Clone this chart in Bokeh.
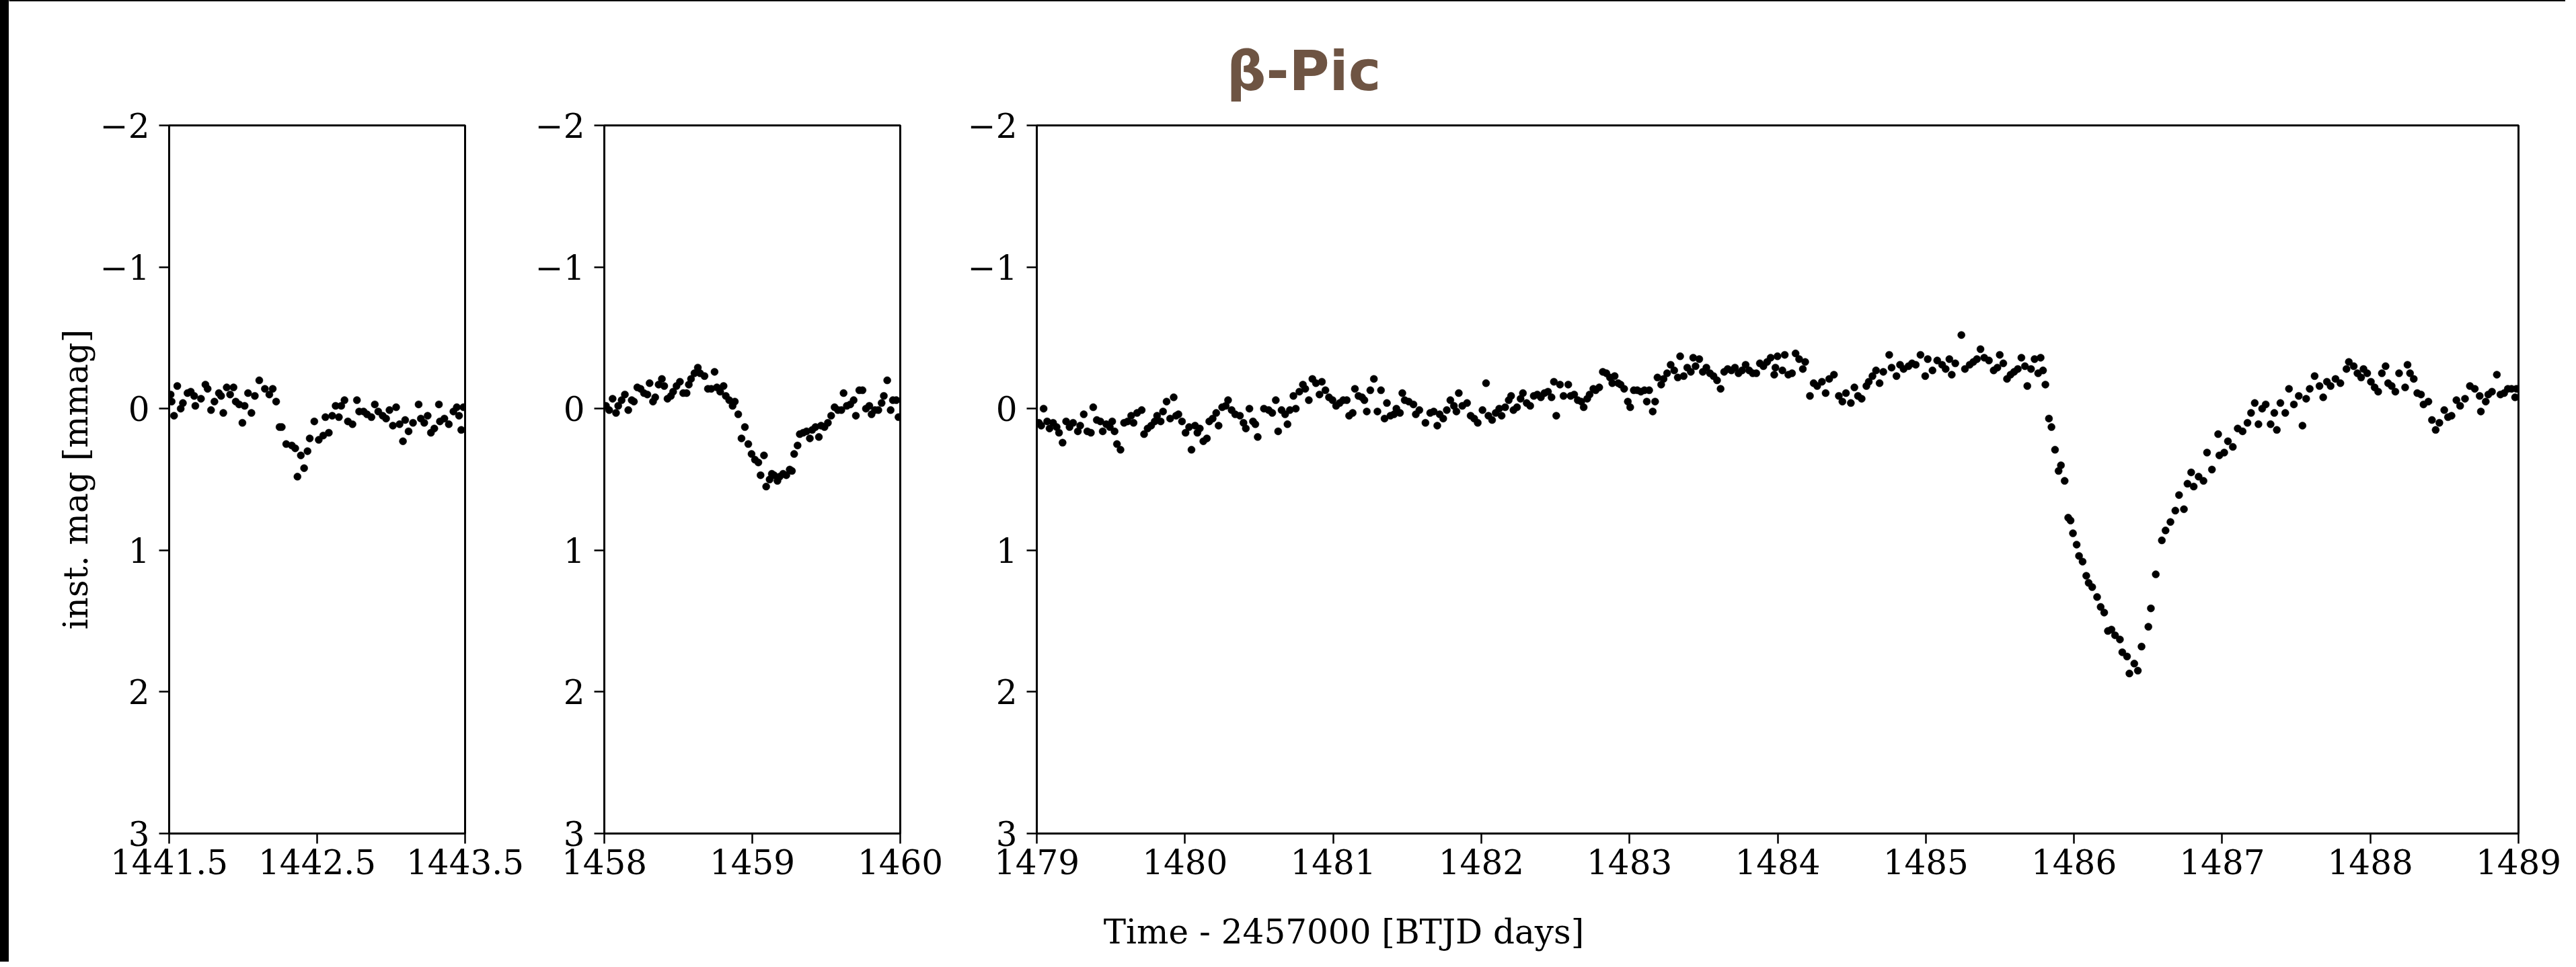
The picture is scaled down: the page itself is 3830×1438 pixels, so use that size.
from bokeh.plotting import figure
from bokeh.layouts import row, column
from bokeh.models import Range1d, FixedTicker, Label
from bokeh.embed import file_html
from bokeh.resources import INLINE

# ---------------- texts ----------------
TITLE = "β-Pic"
X_LABEL = "Time - 2457000 [BTJD days]"
Y_LABEL = "inst. mag [mmag]"

# ---------------- ticks ----------------
Y_TICKS = [-2, -1, 0, 1, 2, 3]
Y_TICK_LABELS = ["−2", "−1", "0", "1", "2", "3"]
X1_TICKS = [1441.5, 1442.5, 1443.5]
X1_TICK_LABELS = ["1441.5", "1442.5", "1443.5"]
X2_TICKS = [1458, 1459, 1460]
X2_TICK_LABELS = ["1458", "1459", "1460"]
X3_TICKS = [1479, 1480, 1481, 1482, 1483, 1484, 1485, 1486, 1487, 1488, 1489]
X3_TICK_LABELS = ["1479", "1480", "1481", "1482", "1483", "1484", "1485", "1486", "1487", "1488", "1489"]

X1_RANGE = (1441.5, 1443.5)
X2_RANGE = (1458.0, 1460.0)
X3_RANGE = (1479.0, 1489.0)
Y_RANGE = (3.0, -2.0)   # magnitudes: axis inverted

# ---------------- data: (time, inst. mag) ----------------
panel1 = [
    (1441.510, -0.10), (1441.517, -0.05), (1441.533, 0.05), (1441.555, -0.16), (1441.578, 0.00),
    (1441.593, -0.04), (1441.624, -0.11), (1441.646, -0.12), (1441.669, -0.09), (1441.677, -0.02),
    (1441.715, -0.07), (1441.745, -0.17), (1441.760, -0.14), (1441.783, 0.01), (1441.806, -0.05),
    (1441.836, -0.11), (1441.851, -0.09), (1441.866, 0.03), (1441.889, -0.15), (1441.912, -0.10),
    (1441.935, -0.15), (1441.950, -0.05), (1441.973, -0.03), (1441.995, 0.10), (1442.010, -0.02),
    (1442.033, -0.11), (1442.056, 0.03), (1442.079, -0.09), (1442.109, -0.20), (1442.147, -0.14),
    (1442.177, -0.10), (1442.200, -0.14), (1442.223, -0.05), (1442.246, 0.13), (1442.261, 0.13),
    (1442.291, 0.25), (1442.329, 0.26), (1442.352, 0.28), (1442.367, 0.48), (1442.390, 0.33),
    (1442.412, 0.42), (1442.435, 0.30), (1442.450, 0.21), (1442.481, 0.09), (1442.511, 0.22),
    (1442.541, 0.19), (1442.556, 0.06), (1442.579, 0.17), (1442.602, 0.05), (1442.625, -0.02),
    (1442.647, 0.06), (1442.663, -0.02), (1442.685, -0.06), (1442.708, 0.09), (1442.739, 0.11),
    (1442.769, -0.06), (1442.784, 0.02), (1442.814, 0.02), (1442.837, 0.04), (1442.867, 0.06),
    (1442.890, -0.03), (1442.913, 0.02), (1442.943, 0.05), (1442.966, 0.07), (1442.989, 0.01),
    (1443.012, 0.12), (1443.034, -0.01), (1443.057, 0.11), (1443.080, 0.23), (1443.095, 0.08),
    (1443.118, 0.16), (1443.148, 0.10), (1443.186, -0.03), (1443.201, 0.07), (1443.224, 0.10),
    (1443.247, 0.05), (1443.269, 0.17), (1443.292, 0.14), (1443.323, -0.03), (1443.330, 0.09),
    (1443.360, 0.07), (1443.390, 0.11), (1443.421, 0.02), (1443.444, -0.01), (1443.459, 0.05),
    (1443.474, 0.15), (1443.489, -0.01),
]

panel2 = [
    (1458.011, -0.02), (1458.033, 0.01), (1458.056, -0.07), (1458.079, 0.03), (1458.094, -0.02),
    (1458.117, -0.06), (1458.139, -0.10), (1458.162, 0.01), (1458.185, -0.06), (1458.200, -0.05),
    (1458.223, -0.15), (1458.245, -0.14), (1458.268, -0.11), (1458.291, -0.10), (1458.306, -0.18),
    (1458.329, -0.05), (1458.344, -0.08), (1458.367, -0.17), (1458.389, -0.21), (1458.405, -0.16),
    (1458.427, -0.07), (1458.450, -0.09), (1458.465, -0.12), (1458.488, -0.16), (1458.511, -0.19),
    (1458.533, -0.11), (1458.556, -0.11), (1458.571, -0.17), (1458.586, -0.21), (1458.609, -0.25),
    (1458.632, -0.29), (1458.647, -0.25), (1458.677, -0.23), (1458.700, -0.14), (1458.723, -0.14),
    (1458.745, -0.26), (1458.761, -0.15), (1458.783, -0.12), (1458.806, -0.16), (1458.821, -0.09),
    (1458.844, -0.06), (1458.867, -0.02), (1458.882, -0.05), (1458.905, 0.04), (1458.927, 0.21),
    (1458.950, 0.13), (1458.973, 0.25), (1458.995, 0.32), (1459.018, 0.36), (1459.041, 0.38),
    (1459.056, 0.47), (1459.079, 0.33), (1459.094, 0.55), (1459.117, 0.50), (1459.132, 0.46),
    (1459.147, 0.47), (1459.170, 0.51), (1459.185, 0.48), (1459.208, 0.46), (1459.230, 0.47),
    (1459.253, 0.43), (1459.268, 0.44), (1459.283, 0.32), (1459.306, 0.26), (1459.321, 0.18),
    (1459.344, 0.17), (1459.367, 0.16), (1459.389, 0.21), (1459.405, 0.15), (1459.427, 0.13),
    (1459.450, 0.20), (1459.465, 0.12), (1459.488, 0.13), (1459.511, 0.10), (1459.533, 0.05),
    (1459.556, -0.01), (1459.579, 0.01), (1459.602, 0.01), (1459.617, -0.11), (1459.639, -0.02),
    (1459.662, -0.03), (1459.685, -0.06), (1459.700, 0.05), (1459.723, -0.13), (1459.745, -0.13),
    (1459.768, 0.00), (1459.791, -0.02), (1459.806, 0.04), (1459.829, 0.01), (1459.852, 0.01),
    (1459.874, -0.04), (1459.889, -0.09), (1459.912, -0.20), (1459.935, 0.01), (1459.950, -0.06),
    (1459.973, -0.06), (1459.988, 0.06),
]

panel3 = [
    (1479.014, 0.10), (1479.030, 0.12), (1479.046, 0.00), (1479.070, 0.09), (1479.086, 0.14),
    (1479.110, 0.10), (1479.134, 0.13), (1479.150, 0.17), (1479.174, 0.24), (1479.198, 0.09),
    (1479.221, 0.13), (1479.245, 0.10), (1479.277, 0.16), (1479.293, 0.12), (1479.317, 0.04),
    (1479.341, 0.16), (1479.365, 0.17), (1479.381, -0.01), (1479.405, 0.08), (1479.429, 0.09),
    (1479.445, 0.16), (1479.469, 0.11), (1479.493, 0.13), (1479.509, 0.09), (1479.525, 0.16),
    (1479.541, 0.25), (1479.565, 0.29), (1479.589, 0.10), (1479.613, 0.09), (1479.637, 0.05),
    (1479.653, 0.10), (1479.677, 0.03), (1479.708, 0.01), (1479.724, 0.18), (1479.748, 0.14),
    (1479.772, 0.12), (1479.796, 0.09), (1479.812, 0.05), (1479.836, 0.09), (1479.852, 0.02),
    (1479.876, -0.05), (1479.900, 0.07), (1479.924, -0.08), (1479.940, 0.05), (1479.956, 0.04),
    (1479.980, 0.09), (1480.004, 0.17), (1480.028, 0.13), (1480.044, 0.29), (1480.068, 0.12),
    (1480.084, 0.17), (1480.100, 0.14), (1480.124, 0.23), (1480.148, 0.21), (1480.164, 0.09),
    (1480.187, 0.07), (1480.211, 0.03), (1480.227, 0.12), (1480.251, -0.01), (1480.275, -0.02),
    (1480.291, -0.06), (1480.315, 0.01), (1480.339, 0.04), (1480.371, 0.05), (1480.395, 0.10),
    (1480.411, 0.14), (1480.435, 0.00), (1480.459, 0.09), (1480.475, 0.11), (1480.491, 0.20),
    (1480.533, 0.00), (1480.565, 0.01), (1480.589, 0.03), (1480.613, -0.06), (1480.629, 0.16),
    (1480.652, 0.01), (1480.676, 0.04), (1480.692, 0.11), (1480.708, 0.01), (1480.732, -0.09),
    (1480.748, 0.00), (1480.772, -0.12), (1480.796, -0.17), (1480.812, -0.14), (1480.836, -0.06),
    (1480.860, -0.21), (1480.884, -0.18), (1480.908, -0.10), (1480.924, -0.19), (1480.948, -0.13),
    (1480.972, -0.08), (1480.996, -0.06), (1481.020, -0.02), (1481.044, -0.04), (1481.068, -0.06),
    (1481.092, -0.06), (1481.108, 0.05), (1481.132, 0.03), (1481.147, -0.14), (1481.171, -0.09),
    (1481.195, -0.08), (1481.211, -0.06), (1481.227, 0.02), (1481.251, -0.13), (1481.275, -0.21),
    (1481.299, 0.02), (1481.323, -0.13), (1481.347, 0.07), (1481.363, -0.04), (1481.387, 0.05),
    (1481.411, 0.04), (1481.427, 0.00), (1481.451, 0.03), (1481.467, -0.11), (1481.483, -0.06),
    (1481.510, -0.05), (1481.542, -0.03), (1481.558, 0.04), (1481.582, 0.01), (1481.623, 0.10),
    (1481.655, 0.03), (1481.679, 0.02), (1481.703, 0.12), (1481.719, 0.04), (1481.743, 0.07),
    (1481.767, 0.01), (1481.791, -0.06), (1481.815, -0.02), (1481.832, 0.02), (1481.848, -0.11),
    (1481.872, -0.02), (1481.904, -0.04), (1481.928, 0.05), (1481.952, 0.07), (1481.976, 0.10),
    (1482.008, 0.01), (1482.032, -0.18), (1482.048, 0.05), (1482.073, 0.08), (1482.097, 0.03),
    (1482.121, 0.00), (1482.137, 0.05), (1482.161, -0.01), (1482.185, -0.06), (1482.201, -0.09),
    (1482.217, 0.01), (1482.241, -0.01), (1482.265, -0.07), (1482.281, -0.11), (1482.306, -0.04),
    (1482.330, -0.02), (1482.354, -0.09), (1482.378, -0.10), (1482.402, -0.08), (1482.426, -0.11),
    (1482.450, -0.12), (1482.474, -0.08), (1482.490, -0.19), (1482.506, 0.05), (1482.531, -0.17),
    (1482.555, -0.09), (1482.587, -0.17), (1482.603, -0.09), (1482.627, -0.10), (1482.651, -0.06),
    (1482.675, -0.05), (1482.691, -0.01), (1482.715, -0.07), (1482.731, -0.10), (1482.756, -0.14),
    (1482.772, -0.13), (1482.796, -0.15), (1482.820, -0.26), (1482.844, -0.25), (1482.868, -0.22),
    (1482.884, -0.18), (1482.900, -0.23), (1482.924, -0.18), (1482.940, -0.17), (1482.964, -0.14),
    (1482.989, -0.05), (1483.005, -0.01), (1483.029, -0.13), (1483.053, -0.13), (1483.077, -0.12),
    (1483.101, -0.13), (1483.117, -0.05), (1483.133, -0.13), (1483.157, 0.02), (1483.173, -0.05),
    (1483.189, -0.22), (1483.214, -0.17), (1483.230, -0.21), (1483.254, -0.25), (1483.278, -0.31),
    (1483.302, -0.27), (1483.326, -0.22), (1483.342, -0.37), (1483.366, -0.23), (1483.390, -0.29),
    (1483.414, -0.26), (1483.430, -0.36), (1483.446, -0.30), (1483.471, -0.35), (1483.495, -0.26),
    (1483.519, -0.29), (1483.543, -0.25), (1483.567, -0.23), (1483.591, -0.20), (1483.615, -0.14),
    (1483.639, -0.26), (1483.663, -0.28), (1483.688, -0.27), (1483.712, -0.29), (1483.736, -0.25),
    (1483.760, -0.27), (1483.784, -0.31), (1483.808, -0.27), (1483.832, -0.25), (1483.856, -0.25),
    (1483.880, -0.32), (1483.904, -0.30), (1483.929, -0.33), (1483.953, -0.36), (1483.977, -0.24),
    (1483.985, -0.29), (1483.999, -0.37), (1484.032, -0.27), (1484.048, -0.38), (1484.072, -0.24),
    (1484.097, -0.25), (1484.121, -0.39), (1484.145, -0.35), (1484.170, -0.28), (1484.186, -0.33),
    (1484.218, -0.09), (1484.243, -0.18), (1484.267, -0.16), (1484.299, -0.19), (1484.324, -0.11),
    (1484.348, -0.21), (1484.380, -0.24), (1484.413, -0.09), (1484.437, -0.05), (1484.461, -0.11),
    (1484.494, -0.04), (1484.518, -0.15), (1484.542, -0.09), (1484.567, -0.07), (1484.599, -0.16),
    (1484.615, -0.19), (1484.640, -0.23), (1484.664, -0.27), (1484.688, -0.18), (1484.713, -0.26),
    (1484.753, -0.38), (1484.769, -0.29), (1484.802, -0.23), (1484.826, -0.31), (1484.850, -0.28),
    (1484.883, -0.30), (1484.907, -0.32), (1484.932, -0.31), (1484.964, -0.38), (1484.996, -0.23),
    (1485.013, -0.35), (1485.045, -0.27), (1485.077, -0.34), (1485.110, -0.31), (1485.134, -0.28),
    (1485.159, -0.35), (1485.175, -0.24), (1485.199, -0.32), (1485.240, -0.52), (1485.264, -0.28),
    (1485.296, -0.31), (1485.321, -0.33), (1485.345, -0.35), (1485.369, -0.42), (1485.394, -0.36),
    (1485.426, -0.34), (1485.458, -0.27), (1485.483, -0.29), (1485.499, -0.38), (1485.523, -0.32),
    (1485.548, -0.21), (1485.572, -0.24), (1485.596, -0.26), (1485.621, -0.28), (1485.645, -0.36),
    (1485.669, -0.30), (1485.685, -0.16), (1485.710, -0.28), (1485.734, -0.35), (1485.758, -0.25),
    (1485.775, -0.36), (1485.791, -0.27), (1485.807, -0.17), (1485.831, 0.07), (1485.848, 0.13),
    (1485.872, 0.29), (1485.896, 0.44), (1485.912, 0.40), (1485.937, 0.51), (1485.961, 0.77),
    (1485.977, 0.79), (1485.993, 0.88), (1486.018, 0.96), (1486.034, 1.04), (1486.058, 1.08),
    (1486.083, 1.18), (1486.099, 1.23), (1486.123, 1.26), (1486.156, 1.33), (1486.180, 1.40),
    (1486.204, 1.44), (1486.229, 1.57), (1486.253, 1.56), (1486.277, 1.60), (1486.310, 1.63),
    (1486.326, 1.72), (1486.358, 1.75), (1486.374, 1.87), (1486.407, 1.80), (1486.431, 1.85),
    (1486.456, 1.68), (1486.502, 1.54), (1486.519, 1.41), (1486.552, 1.17), (1486.593, 0.93),
    (1486.618, 0.86), (1486.651, 0.80), (1486.684, 0.72), (1486.709, 0.61), (1486.742, 0.71),
    (1486.766, 0.53), (1486.791, 0.45), (1486.808, 0.55), (1486.841, 0.48), (1486.874, 0.51),
    (1486.898, 0.31), (1486.931, 0.43), (1486.973, 0.18), (1486.981, 0.33), (1487.014, 0.31),
    (1487.039, 0.23), (1487.072, 0.27), (1487.105, 0.14), (1487.138, 0.16), (1487.171, 0.10),
    (1487.195, 0.03), (1487.220, -0.04), (1487.245, 0.11), (1487.270, 0.00), (1487.294, -0.03),
    (1487.327, 0.11), (1487.352, 0.03), (1487.369, 0.15), (1487.393, -0.04), (1487.426, 0.03),
    (1487.451, -0.14), (1487.484, -0.03), (1487.517, -0.09), (1487.542, 0.12), (1487.567, -0.07),
    (1487.591, -0.14), (1487.624, -0.23), (1487.657, -0.16), (1487.682, -0.08), (1487.707, -0.19),
    (1487.732, -0.16), (1487.765, -0.21), (1487.798, -0.18), (1487.839, -0.28), (1487.855, -0.33),
    (1487.888, -0.30), (1487.913, -0.25), (1487.938, -0.22), (1487.954, -0.28), (1487.979, -0.25),
    (1488.004, -0.19), (1488.029, -0.15), (1488.053, -0.12), (1488.078, -0.25), (1488.103, -0.30),
    (1488.120, -0.18), (1488.144, -0.16), (1488.169, -0.12), (1488.194, -0.25), (1488.235, -0.15),
    (1488.251, -0.31), (1488.268, -0.25), (1488.293, -0.21), (1488.317, -0.11), (1488.342, -0.10),
    (1488.359, -0.03), (1488.392, -0.05), (1488.416, 0.08), (1488.441, 0.15), (1488.466, 0.10),
    (1488.499, 0.01), (1488.524, 0.06), (1488.548, 0.05), (1488.581, -0.06), (1488.606, -0.02),
    (1488.639, -0.07), (1488.672, -0.16), (1488.705, -0.14), (1488.738, -0.09), (1488.746, 0.02),
    (1488.779, -0.05), (1488.796, -0.10), (1488.821, -0.12), (1488.854, -0.24), (1488.878, -0.10),
    (1488.903, -0.11), (1488.928, -0.14), (1488.953, -0.14), (1488.977, -0.08), (1488.986, -0.14),
]

# ---------------- styling ----------------
SERIF = "DejaVu Serif"
TXT = "50px"
FRAME_H = 1053
TOP_B = 32
BOT_B = 90
FULL_W = 3801
TITLE_H = 152
XLAB_H = 101
TOP_BAND_H = 10
LEFT_BAND_W = 21


def make_panel(points, xr, ticks, labels, frame_w, left, right, ylabel=None):
    p = figure(output_backend="svg", toolbar_location=None, title=None,
               frame_width=frame_w, frame_height=FRAME_H,
               x_range=Range1d(*xr), y_range=Range1d(*Y_RANGE),
               min_border_left=left, min_border_right=right,
               min_border_top=TOP_B, min_border_bottom=BOT_B,
               background_fill_color="white", border_fill_color="white")
    p.grid.visible = False
    p.outline_line_color = "black"
    p.outline_line_width = 3
    p.outline_line_alpha = 1.0

    p.xaxis.ticker = FixedTicker(ticks=ticks)
    p.xaxis.major_label_overrides = {t: l for t, l in zip(ticks, labels)}
    p.yaxis.ticker = FixedTicker(ticks=Y_TICKS)
    p.yaxis.major_label_overrides = {t: l for t, l in zip(Y_TICKS, Y_TICK_LABELS)}

    for ax in (p.xaxis[0], p.yaxis[0]):
        ax.axis_line_color = "black"
        ax.axis_line_width = 3
        ax.major_tick_line_color = "black"
        ax.major_tick_line_width = 2.5
        ax.major_tick_in = 0
        ax.major_tick_out = 15
        ax.minor_tick_line_color = None
        ax.major_label_text_font = SERIF
        ax.major_label_text_font_size = TXT
        ax.major_label_text_color = "black"
    p.xaxis.major_label_standoff = 8
    p.yaxis.major_label_standoff = 14

    if ylabel:
        p.yaxis.axis_label = ylabel
        p.yaxis.axis_label_text_font = SERIF
        p.yaxis.axis_label_text_font_size = TXT
        p.yaxis.axis_label_text_font_style = "normal"
        p.yaxis.axis_label_text_color = "black"
        p.yaxis.axis_label_standoff = 4

    xs = [pt[0] for pt in points]
    ys = [pt[1] for pt in points]
    p.scatter(xs, ys, marker="circle", size=11, fill_color="black", line_color="black", line_width=0.5)
    return p


def blank(w, h, color="white"):
    # a plain canvas whose data units are pixels (used for the title / shared x label / black margins)
    s = figure(width=w, height=h, output_backend="svg", toolbar_location=None, title=None,
               x_axis_type=None, y_axis_type=None, min_border=0,
               x_range=Range1d(0, w), y_range=Range1d(0, h),
               background_fill_color=color, border_fill_color=color,
               outline_line_color=None)
    s.grid.visible = False
    return s


p1 = make_panel(panel1, X1_RANGE, X1_TICKS, X1_TICK_LABELS, 440, 238, 95, ylabel=Y_LABEL)
p2 = make_panel(panel2, X2_RANGE, X2_TICKS, X2_TICK_LABELS, 440, 112, 95)
p3 = make_panel(panel3, X3_RANGE, X3_TICKS, X3_TICK_LABELS, 2203, 108, 70)

title_fig = blank(FULL_W, TITLE_H)
title_fig.add_layout(Label(x=1925, y=49, text=TITLE, text_align="center",
                           text_baseline="middle", text_font="DejaVu Sans",
                           text_font_style="bold", text_font_size="82px",
                           text_color="#6E5443"))

xlabel_fig = blank(FULL_W, XLAB_H)
xlabel_fig.add_layout(Label(x=1984.5, y=45, text=X_LABEL, text_align="center",
                            text_baseline="alphabetic", text_font=SERIF,
                            text_font_size=TXT, text_color="black"))

total_h = TOP_BAND_H + TITLE_H + TOP_B + FRAME_H + BOT_B + XLAB_H
left_band = blank(LEFT_BAND_W, total_h, color="black")
top_band = blank(FULL_W, TOP_BAND_H, color="black")

layout = row(left_band, column(top_band, title_fig, row(p1, p2, p3), xlabel_fig))
# pull the whole page into the body's 8px margin so the black frame edges reach the window edge
layout.styles = {"margin-left": "-8px", "margin-top": "-8px"}

with open("out.html", "w") as f:
    f.write(file_html(layout, INLINE))
